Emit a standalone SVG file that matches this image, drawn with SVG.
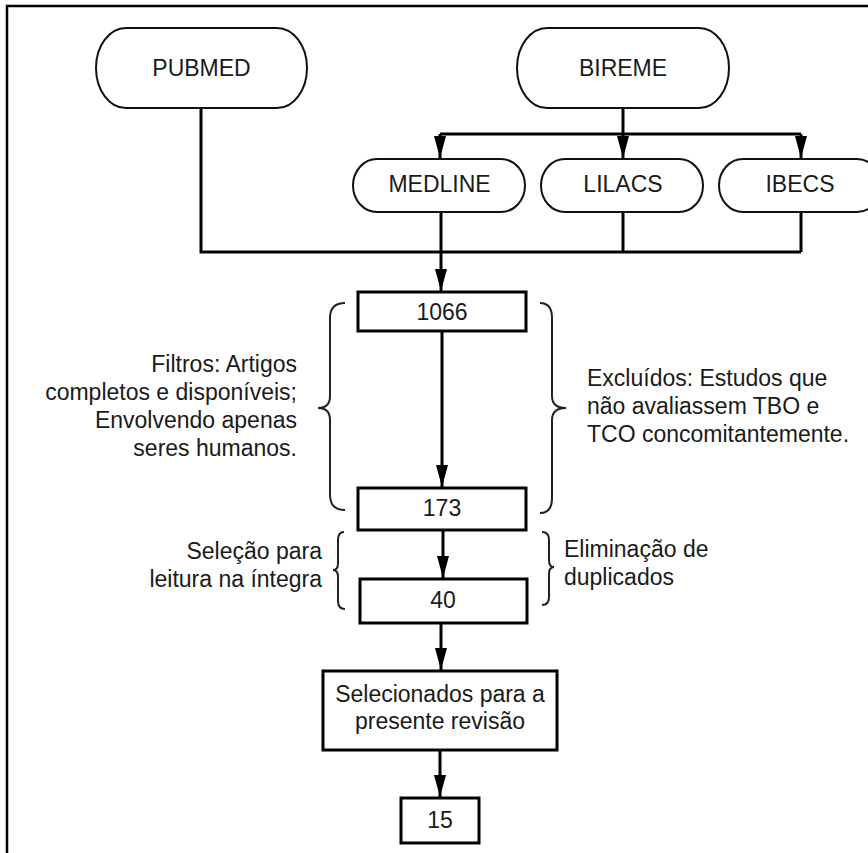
<svg xmlns="http://www.w3.org/2000/svg" width="868" height="853" viewBox="0 0 868 853">
<defs>
<marker id="arr" markerUnits="userSpaceOnUse" markerWidth="22" markerHeight="12" refX="22" refY="6" orient="auto">
<path d="M0,0 L22,6 L0,12 Z" fill="#000"/>
</marker>
<style>
.pill{fill:#fff;stroke:#111;stroke-width:2}
.box{fill:#fff;stroke:#000;stroke-width:3}
.t{font-family:"Liberation Sans",Arial,sans-serif;font-size:23px;fill:#1a1a1a}
.c{text-anchor:middle}
.r{text-anchor:end}
.ln{fill:none;stroke:#000;stroke-width:3}
.ar{fill:none;stroke:#000;stroke-width:3;marker-end:url(#arr)}
.br{fill:none;stroke:#222;stroke-width:2}
</style>
</defs>
<rect width="868" height="853" fill="#fff"/>
<path d="M7,853 V6 H868" fill="none" stroke="#000" stroke-width="2.5"/>

<g id="connectors">
<path class="ln" d="M201,108 V252 H801"/>
<path class="ln" d="M623,212 V252"/>
<path class="ln" d="M801,212 V252"/>
<path class="ar" d="M441,212 V291"/>
<path class="ln" d="M623,108 V134"/>
<path class="ln" d="M440,134 H801"/>
<path class="ar" d="M440,134 V158"/>
<path class="ar" d="M623,134 V158"/>
<path class="ar" d="M801,134 V158"/>
<path class="ar" d="M442,331 V487"/>
<path class="ar" d="M443,530 V578"/>
<path class="ar" d="M441,623 V670"/>
<path class="ar" d="M440,750 V797"/>
</g>

<g id="pubmed"><rect class="pill" x="96" y="28" width="211" height="80" rx="30" ry="40"/><text class="t c" x="201.5" y="76">PUBMED</text></g>
<g id="bireme"><rect class="pill" x="517" y="28" width="212" height="80" rx="30" ry="40"/><text class="t c" x="623" y="76">BIREME</text></g>
<g id="medline"><rect class="pill" x="353" y="159" width="172" height="53" rx="24" ry="26.5"/><text class="t c" x="439.5" y="192">MEDLINE</text></g>
<g id="lilacs"><rect class="pill" x="541" y="159" width="162" height="53" rx="24" ry="26.5"/><text class="t c" x="623" y="192">LILACS</text></g>
<g id="ibecs"><rect class="pill" x="719" y="159" width="162" height="53" rx="24" ry="26.5"/><text class="t c" x="800" y="192">IBECS</text></g>

<g id="n1066"><rect class="box" x="358" y="292" width="168" height="39"/><text class="t c" x="442" y="320">1066</text></g>
<g id="n173"><rect class="box" x="358" y="488" width="168" height="42"/><text class="t c" x="442" y="516">173</text></g>
<g id="n40"><rect class="box" x="360" y="579" width="167" height="44"/><text class="t c" x="443" y="608">40</text></g>
<g id="selecionados"><rect class="box" x="323" y="671" width="234" height="79"/><text class="t c" x="440" y="702">Selecionados para a</text><text class="t c" x="440" y="729">presente revisão</text></g>
<g id="n15"><rect class="box" x="401" y="798" width="78" height="45"/><text class="t c" x="440" y="828">15</text></g>

<g id="filtros">
<path class="br" d="M345,303 Q330,303 330,318 L330,396 Q330,408 318,408 Q330,408 330,420 L330,495 Q330,510 345,510"/>
<text class="t r" x="297" y="372">Filtros: Artigos</text>
<text class="t r" x="297" y="400">completos e disponíveis;</text>
<text class="t r" x="297" y="428">Envolvendo apenas</text>
<text class="t r" x="297" y="456">seres humanos.</text>
</g>
<g id="excluidos">
<path class="br" d="M540,303 Q552,303 552,318 L552,396 Q552,408 566,408 Q552,408 552,420 L552,498 Q552,513 540,513"/>
<text class="t" x="587" y="386">Excluídos: Estudos que</text>
<text class="t" x="587" y="414">não avaliassem TBO e</text>
<text class="t" x="587" y="442">TCO concomitantemente.</text>
</g>
<g id="selecao">
<path class="br" d="M344,532 Q338,532 338,540 L338,563 Q338,570 333,570 Q338,570 338,577 L338,601 Q338,609 345,609"/>
<text class="t r" x="322" y="559">Seleção para</text>
<text class="t r" x="322" y="587">leitura na íntegra</text>
</g>
<g id="eliminacao">
<path class="br" d="M542,532 Q549,532 549,540 L549,560 Q549,567 554,567 Q549,567 549,574 L549,597 Q549,605 542,605"/>
<text class="t" x="564" y="557">Eliminação de</text>
<text class="t" x="564" y="585">duplicados</text>
</g>
</svg>
